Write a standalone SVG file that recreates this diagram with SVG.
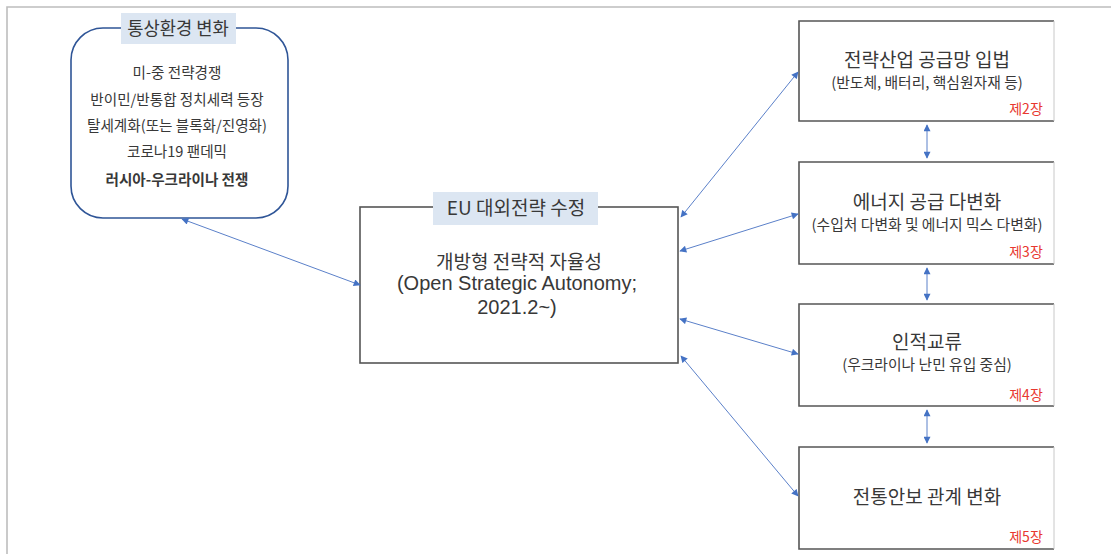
<svg xmlns="http://www.w3.org/2000/svg" width="1111" height="554" viewBox="0 0 1111 554">
<style>
text{font-family:"Noto Sans CJK KR","Liberation Sans",sans-serif;fill:#383838;text-anchor:middle}
.frame{fill:none;stroke:#bdbdbd;stroke-width:1.6}
.rbox{fill:#fff;stroke:#555;stroke-width:1.6}
.rr{fill:none;stroke:#c8c8c8;stroke-width:1}
.tag{fill:#dce6f2}
.c{fill:none;stroke:#5b80c9;stroke-width:1;marker-start:url(#a);marker-end:url(#a)}
.t1{font-size:19px}
.t2{font-size:14.8px}
.ch{font-size:14px;fill:#e8382f}
.l{font-size:14.6px}
.en{font-size:20px;font-family:"Liberation Sans","Noto Sans CJK KR",sans-serif}
</style>
<defs>
<marker id="a" viewBox="0 0 10 10" refX="9" refY="5" markerWidth="9" markerHeight="7" markerUnits="userSpaceOnUse" orient="auto-start-reverse">
<path d="M0,0 L10,5 L0,10 z" fill="#4472c4"/>
</marker>
</defs>
<rect width="1111" height="554" fill="#fff"/>
<path class="frame" d="M7,554 V7 H1111"/>

<g id="env">
<rect x="71" y="28" width="217" height="190" rx="32" ry="32" fill="#fff" stroke="#2f5597" stroke-width="1.6"/>
<rect class="tag" x="121" y="13" width="115" height="31"/>
<text x="178" y="35" style="font-size:17.7px">통상환경 변화</text>
<text class="l" x="177" y="78">미-중 전략경쟁</text>
<text class="l" x="177" y="105">반이민/반통합 정치세력 등장</text>
<text class="l" x="177" y="131">탈세계화(또는 블록화/진영화)</text>
<text class="l" x="177" y="157">코로나19 팬데믹</text>
<text class="l" x="177" y="185" font-weight="bold">러시아-우크라이나 전쟁</text>
</g>

<g id="eu">
<rect class="rbox" x="360" y="207" width="318" height="156"/>
<rect class="tag" x="433" y="192" width="165" height="33"/>
<text class="t1" x="516" y="215">EU 대외전략 수정</text>
<text class="t1" x="519" y="269">개방형 전략적 자율성</text>
<text class="en" x="517" y="290">(Open Strategic Autonomy;</text>
<text class="en" x="517" y="314">2021.2~)</text>
</g>

<g id="ch2">
<rect x="799" y="21" width="255" height="100" fill="#fff"/>
<path class="rbox" fill="none" d="M1054,21 H799 V121 H1054"/>
<path class="rr" d="M1054,21 V121"/>
<text class="t1" x="927" y="67">전략산업 공급망 입법</text>
<text class="t2" x="927" y="88">(반도체, 배터리, 핵심원자재 등)</text>
<text class="ch" x="1026" y="114">제2장</text>
</g>

<g id="ch3">
<rect x="799" y="162" width="255" height="102" fill="#fff"/>
<path class="rbox" fill="none" d="M1054,162 H799 V264 H1054"/>
<path class="rr" d="M1054,162 V264"/>
<text class="t1" x="927" y="209">에너지 공급 다변화</text>
<text class="t2" x="927" y="230">(수입처 다변화 및 에너지 믹스 다변화)</text>
<text class="ch" x="1026" y="257">제3장</text>
</g>

<g id="ch4">
<rect x="799" y="304" width="255" height="102" fill="#fff"/>
<path class="rbox" fill="none" d="M1054,304 H799 V406 H1054"/>
<path class="rr" d="M1054,304 V406"/>
<text class="t1" x="927" y="349">인적교류</text>
<text class="t2" x="927" y="370">(우크라이나 난민 유입 중심)</text>
<text class="ch" x="1026" y="400">제4장</text>
</g>

<g id="ch5">
<rect x="799" y="447" width="255" height="102" fill="#fff"/>
<path class="rbox" fill="none" d="M1054,447 H799 V549 H1054"/>
<path class="rr" d="M1054,447 V549"/>
<text class="t1" x="927" y="504">전통안보 관계 변화</text>
<text class="ch" x="1026" y="542">제5장</text>
</g>

<g id="connectors">
<line class="c" x1="182" y1="219" x2="360" y2="285"/>
<line class="c" x1="681" y1="217" x2="798" y2="72"/>
<line class="c" x1="680" y1="251" x2="798" y2="214"/>
<line class="c" x1="680" y1="319" x2="798" y2="354"/>
<line class="c" x1="681" y1="356" x2="798" y2="496"/>
<line class="c" x1="927" y1="125" x2="927" y2="158"/>
<line class="c" x1="927" y1="268" x2="927" y2="300"/>
<line class="c" x1="927" y1="410" x2="927" y2="443"/>
</g>
</svg>
